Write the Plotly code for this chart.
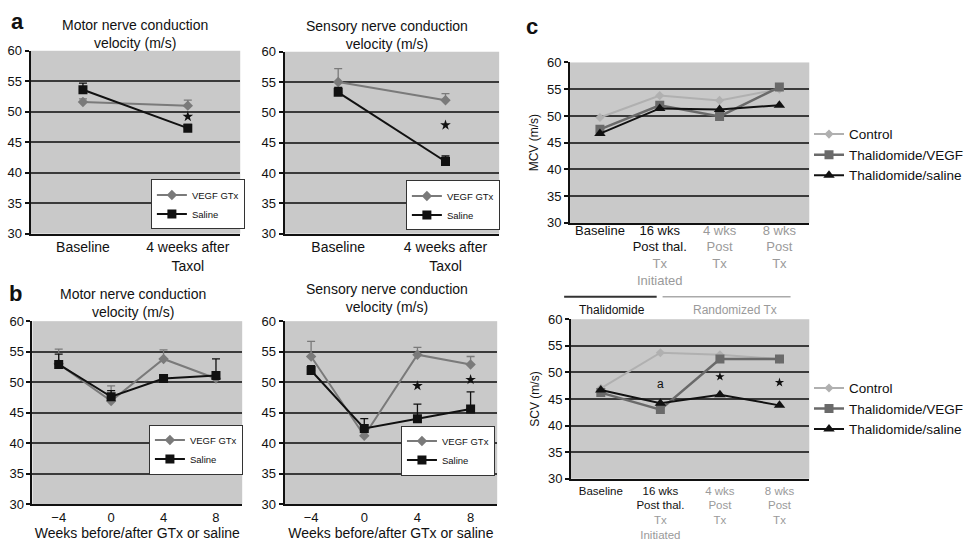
import plotly.graph_objects as go

FONT = "Liberation Sans, Arial, sans-serif"
W, H = 969, 549

# ---------------- data ----------------
a_cats = ["Baseline", "4 weeks after Taxol"]
a_cat_labels = ["Baseline", "4 weeks after<br>Taxol"]
a_mncv_vegf = [51.6, 51.0]
a_mncv_vegf_err = [0.5, 0.9]
a_mncv_sal = [53.6, 47.3]
a_mncv_sal_err = [1.1, 0.6]
a_mncv_star = [49.2]
a_sncv_vegf = [55.0, 52.0]
a_sncv_vegf_err = [2.2, 1.1]
a_sncv_sal = [53.3, 41.9]
a_sncv_sal_err = [0.8, 0.9]
a_sncv_star = [47.9]

b_weeks = ["−4", "0", "4", "8"]
b_mncv_vegf = [53.0, 46.9, 53.8, 50.6]
b_mncv_vegf_err = [2.4, 2.5, 1.5, 1.0]
b_mncv_sal = [52.9, 47.6, 50.6, 51.1]
b_mncv_sal_err = [1.7, 1.0, 0.5, 2.7]
b_sncv_vegf = [54.2, 41.2, 54.5, 52.9]
b_sncv_vegf_err = [2.5, 0.5, 1.2, 1.3]
b_sncv_sal = [51.9, 42.4, 44.0, 45.6]
b_sncv_sal_err = [0.8, 1.6, 2.4, 2.8]
b_sncv_star_x = ["4", "8"]
b_sncv_star = [49.4, 50.4]

c_cats = ["Baseline", "16 wks Post thal. Tx Initiated", "4 wks Post Tx", "8 wks Post Tx"]
GR = "#9a9a9a"
c_cat_labels = [
    "Baseline",
    f"16 wks<br>Post thal.<br><span style='color:{GR}'>Tx</span><br><span style='color:{GR}'>Initiated</span>",
    f"<span style='color:{GR}'>4 wks</span><br><span style='color:{GR}'>Post</span><br><span style='color:{GR}'>Tx</span>",
    f"<span style='color:{GR}'>8 wks</span><br><span style='color:{GR}'>Post</span><br><span style='color:{GR}'>Tx</span>",
]
c_mcv_control = [49.7, 53.8, 52.9, 55.0]
c_mcv_vegf = [47.5, 52.0, 49.9, 55.4]
c_mcv_saline = [46.7, 51.4, 51.2, 52.0]
c_scv_control = [47.0, 53.7, 53.3, 52.5]
c_scv_vegf = [46.2, 43.0, 52.5, 52.5]
c_scv_saline = [46.7, 44.2, 45.8, 43.8]
c_scv_star_x = ["4 wks Post Tx", "8 wks Post Tx"]
c_scv_star = [49.2, 48.1]
c_scv_a_x = "16 wks Post thal. Tx Initiated"
c_scv_a_y = 47.8

y_ticks = [30, 35, 40, 45, 50, 55, 60]
grid_vals = [35, 40, 45, 50, 55]

VEGF_COL = "#7a7a7a"
SAL_COL = "#111111"
CTRL_COL = "#b0b0b0"
TV_COL = "#6a6a6a"

fig = go.Figure()


def px_x(p):
    return p / W


def px_y(p):
    return 1 - p / H


def err(vals, col):
    return dict(type="data", symmetric=False, array=vals, arrayminus=[0] * len(vals),
                color=col, thickness=1.3, width=4)


def ab_traces(xa, ya, leg, cats, vegf, vegf_err, sal, sal_err):
    fig.add_trace(go.Scatter(x=cats, y=vegf, mode="lines+markers", name="VEGF GTx",
                             line=dict(color=VEGF_COL, width=2),
                             marker=dict(symbol="diamond", size=8, color=VEGF_COL),
                             error_y=err(vegf_err, VEGF_COL),
                             xaxis=xa, yaxis=ya, legend=leg))
    fig.add_trace(go.Scatter(x=cats, y=sal, mode="lines+markers", name="Saline",
                             line=dict(color=SAL_COL, width=2),
                             marker=dict(symbol="square", size=9, color=SAL_COL),
                             error_y=err(sal_err, SAL_COL),
                             xaxis=xa, yaxis=ya, legend=leg))


def stars(xa, ya, xs, ys, size=8):
    fig.add_trace(go.Scatter(x=xs, y=ys, mode="markers", showlegend=False,
                             marker=dict(symbol="star", size=size, color="#111"),
                             xaxis=xa, yaxis=ya, hoverinfo="skip"))


ab_traces("x", "y", "legend", a_cats, a_mncv_vegf, a_mncv_vegf_err, a_mncv_sal, a_mncv_sal_err)
stars("x", "y", [a_cats[1]], a_mncv_star)
ab_traces("x2", "y2", "legend2", a_cats, a_sncv_vegf, a_sncv_vegf_err, a_sncv_sal, a_sncv_sal_err)
stars("x2", "y2", [a_cats[1]], a_sncv_star)
ab_traces("x3", "y3", "legend3", b_weeks, b_mncv_vegf, b_mncv_vegf_err, b_mncv_sal, b_mncv_sal_err)
ab_traces("x4", "y4", "legend4", b_weeks, b_sncv_vegf, b_sncv_vegf_err, b_sncv_sal, b_sncv_sal_err)
stars("x4", "y4", b_sncv_star_x, b_sncv_star)


def c_traces(xa, ya, leg, ctrl, tv, ts):
    fig.add_trace(go.Scatter(x=c_cats, y=ctrl, mode="lines+markers", name="Control",
                             line=dict(color=CTRL_COL, width=2),
                             marker=dict(symbol="diamond", size=7, color=CTRL_COL),
                             xaxis=xa, yaxis=ya, legend=leg))
    fig.add_trace(go.Scatter(x=c_cats, y=tv, mode="lines+markers", name="Thalidomide/VEGF",
                             line=dict(color=TV_COL, width=2.5),
                             marker=dict(symbol="square", size=9, color=TV_COL),
                             xaxis=xa, yaxis=ya, legend=leg))
    fig.add_trace(go.Scatter(x=c_cats, y=ts, mode="lines+markers", name="Thalidomide/saline",
                             line=dict(color=SAL_COL, width=2),
                             marker=dict(symbol="triangle-up", size=10, color=SAL_COL),
                             xaxis=xa, yaxis=ya, legend=leg))


c_traces("x5", "y5", "legend5", c_mcv_control, c_mcv_vegf, c_mcv_saline)
c_traces("x6", "y6", "legend6", c_scv_control, c_scv_vegf, c_scv_saline)
stars("x6", "y6", c_scv_star_x, c_scv_star, size=7)

# ---------------- axes ----------------
panels = {
    "": dict(x=(31, 244), y=(45, 233)),
    "2": dict(x=(289, 507), y=(46, 233)),
    "3": dict(x=(33, 246), y=(323, 511)),
    "4": dict(x=(289, 505), y=(323, 511)),
    "5": dict(x=(579, 822), y=(57, 222)),
    "6": dict(x=(580, 822), y=(321, 485)),
}

layout_axes = {}
for k, p in panels.items():
    xd = [px_x(p["x"][0]), px_x(p["x"][1])]
    yd = [px_y(p["y"][1]), px_y(p["y"][0])]
    layout_axes["xaxis" + k] = dict(
        domain=xd, anchor="y" + k, type="category", range=[-0.5, (3.5 if k not in ("", "2") else 1.5)],
        showline=True, linecolor="#111", linewidth=2, showgrid=False, ticks="",
        tickfont=dict(size=13, color="#111", family=FONT),
        zeroline=False, fixedrange=True,
    )
    layout_axes["yaxis" + k] = dict(
        domain=yd, anchor="x" + k, range=[30, 60], tickvals=y_ticks,
        showline=True, linecolor="#111", linewidth=2, showgrid=False,
        ticks="outside", ticklen=4, tickcolor="#111", tickwidth=1.5,
        tickfont=dict(size=13, color="#111", family=FONT),
        minor=dict(tickvals=grid_vals, showgrid=True, gridcolor="#3a3a3a", gridwidth=1.5, ticks=""),
        zeroline=False, fixedrange=True,
    )

layout_axes["xaxis"].update(tickvals=a_cats, ticktext=a_cat_labels, tickfont=dict(size=14, color="#111", family=FONT))
layout_axes["xaxis2"].update(tickvals=a_cats, ticktext=a_cat_labels, tickfont=dict(size=14, color="#111", family=FONT))
for k in ("3", "4"):
    layout_axes["xaxis" + k].update(
        tickfont=dict(size=13, color="#111", family=FONT),
        title=dict(text="Weeks before/after GTx or saline", font=dict(size=14, color="#111", family=FONT), standoff=4))
layout_axes["xaxis5"].update(tickvals=c_cats, ticktext=c_cat_labels,
                             tickfont=dict(size=13, color="#111", family=FONT), ticklabelstandoff=-6)
layout_axes["xaxis6"].update(tickvals=c_cats, ticktext=c_cat_labels,
                             tickfont=dict(size=11.5, color="#111", family=FONT))
layout_axes["yaxis5"].update(title=dict(text="MCV (m/s)", font=dict(size=12, color="#111", family=FONT), standoff=6))
layout_axes["yaxis6"].update(title=dict(text="SCV (m/s)", font=dict(size=12, color="#111", family=FONT), standoff=6))

# ---------------- legends ----------------
small_leg = dict(bgcolor="white", bordercolor="#333", borderwidth=1,
                 font=dict(size=9.5, color="#111", family=FONT), itemwidth=30,
                 xanchor="center", yanchor="middle", tracegroupgap=0)
big_leg = dict(bgcolor="rgba(0,0,0,0)", borderwidth=0,
               font=dict(size=13.5, color="#111", family=FONT), itemwidth=30,
               xanchor="left", yanchor="middle")

annotations = []


def txt(text, x, y, size=14, color="#111", bold=False, xanchor="center"):
    if bold:
        text = f"<b>{text}</b>"
    annotations.append(dict(text=text, x=px_x(x), y=px_y(y), xref="paper", yref="paper",
                            showarrow=False, xanchor=xanchor, yanchor="middle",
                            font=dict(size=size, color=color, family=FONT)))


txt("a", 18, 15, size=22, bold=True)
txt("b", 16, 295, size=22, bold=True)
txt("c", 540, 20, size=22, bold=True)
txt("Motor nerve conduction<br>velocity (m/s)", 137, 28, size=14)
txt("Sensory nerve conduction<br>velocity (m/s)", 393, 29, size=14)
txt("Motor nerve conduction<br>velocity (m/s)", 135, 304, size=14)
txt("Sensory nerve conduction<br>velocity (m/s)", 393, 299, size=14)
txt("Thalidomide", 622, 312, size=12)
txt("Randomized Tx", 747, 312, size=12, color=GR)
annotations.append(dict(text="a", x=c_scv_a_x, y=c_scv_a_y, xref="x6", yref="y6", showarrow=False,
                        font=dict(size=12, color="#111", family=FONT)))

shapes = [
    dict(type="line", xref="paper", yref="paper", x0=px_x(573), x1=px_x(667), y0=px_y(298), y1=px_y(298),
         line=dict(color="#333", width=2)),
    dict(type="line", xref="paper", yref="paper", x0=px_x(673), x1=px_x(803), y0=px_y(298), y1=px_y(298),
         line=dict(color="#aaa", width=1.5)),
]

fig.update_layout(
    width=W, height=H, margin=dict(l=0, r=0, t=0, b=0),
    paper_bgcolor="white", plot_bgcolor="#c9c9c9",
    font=dict(family=FONT, color="#111"),
    showlegend=True,
    legend=dict(small_leg, x=px_x(201), y=px_y(203)),
    legend2=dict(small_leg, x=px_x(460), y=px_y(204)),
    legend3=dict(small_leg, x=px_x(199), y=px_y(455)),
    legend4=dict(small_leg, x=px_x(455), y=px_y(456)),
    legend5=dict(big_leg, x=px_x(822), y=px_y(152)),
    legend6=dict(big_leg, x=px_x(822), y=px_y(413)),
    annotations=annotations, shapes=shapes,
    **layout_axes,
)

fig.write_html("out.html", config={"displayModeBar": False})

# remove the default page margin so the figure sits at the window's top-left corner
with open("out.html", encoding="utf-8") as f:
    html = f.read()
html = html.replace("<head>", "<head><style>html,body{margin:0;padding:0;overflow:hidden;}</style>", 1)
with open("out.html", "w", encoding="utf-8") as f:
    f.write(html)
